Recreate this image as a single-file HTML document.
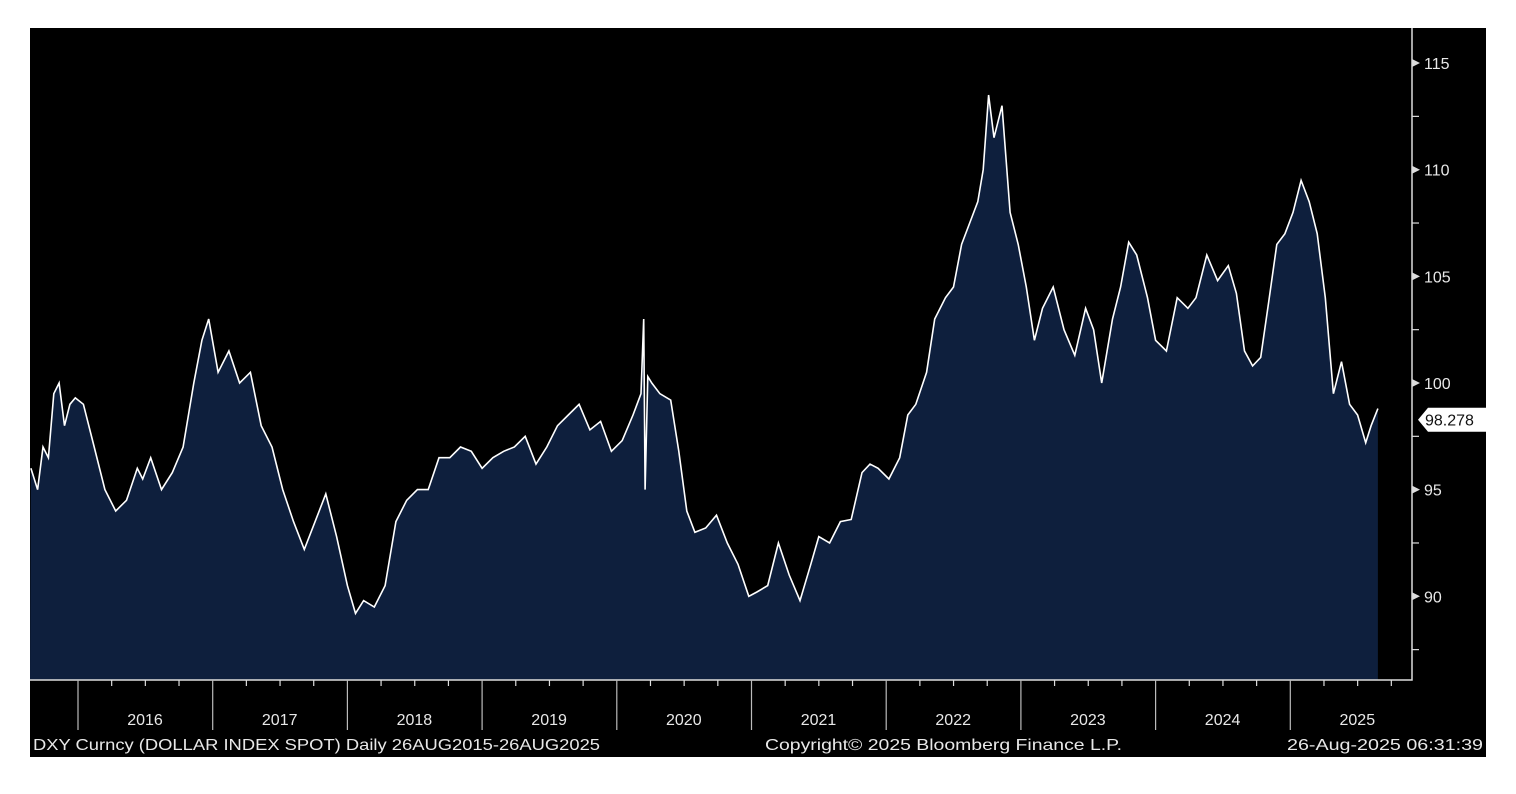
<!DOCTYPE html>
<html><head><meta charset="utf-8"><style>
html,body{margin:0;padding:0;background:#fff;width:1516px;height:794px;overflow:hidden}
svg text{font-family:"Liberation Sans",sans-serif}
</style></head><body>
<svg id="c" width="1516" height="794">
<rect x="30" y="28" width="1456" height="729" fill="#000"/>
<g id="plot"></g>
<g id="axes"></g>
<text x="33" y="750" fill="#e8e8e8" font-size="16" textLength="567" lengthAdjust="spacingAndGlyphs">DXY Curncy (DOLLAR INDEX SPOT)  Daily 26AUG2015-26AUG2025</text>
<text x="765" y="750" fill="#e8e8e8" font-size="16" textLength="357" lengthAdjust="spacingAndGlyphs">Copyright© 2025 Bloomberg Finance L.P.</text>
<text x="1287" y="750" fill="#e8e8e8" font-size="16" textLength="196" lengthAdjust="spacingAndGlyphs">26-Aug-2025 06:31:39</text>
</svg>
<script>
const dates=[2015.65,2015.70,2015.74,2015.78,2015.82,2015.86,2015.90,2015.94,2015.98,
2016.04,2016.12,2016.2,2016.28,2016.36,2016.44,2016.48,2016.54,2016.62,2016.7,2016.78,2016.86,2016.92,2016.97,
2017.04,2017.12,2017.2,2017.28,2017.36,2017.44,2017.52,2017.6,2017.68,2017.76,2017.84,2017.92,
2018.0,2018.06,2018.12,2018.2,2018.28,2018.36,2018.44,2018.52,2018.6,2018.68,2018.76,2018.84,2018.92,
2019.0,2019.08,2019.16,2019.24,2019.32,2019.4,2019.48,2019.56,2019.64,2019.72,2019.8,2019.88,2019.96,
2020.04,2020.12,2020.18,2020.2,2020.21,2020.23,2020.26,2020.32,2020.4,2020.46,2020.52,2020.58,2020.66,2020.74,2020.82,2020.9,2020.98,
2021.04,2021.12,2021.2,2021.28,2021.36,2021.44,2021.5,2021.58,2021.66,2021.74,2021.82,2021.88,2021.94,
2022.02,2022.1,2022.16,2022.22,2022.3,2022.36,2022.44,2022.5,2022.56,2022.62,2022.68,2022.72,2022.76,2022.8,2022.86,2022.92,2022.98,
2023.04,2023.1,2023.16,2023.24,2023.32,2023.4,2023.48,2023.54,2023.6,2023.68,2023.74,2023.8,2023.86,2023.94,
2024.0,2024.08,2024.16,2024.24,2024.3,2024.38,2024.46,2024.54,2024.6,2024.66,2024.72,2024.78,2024.84,2024.9,2024.96,
2025.02,2025.08,2025.14,2025.2,2025.26,2025.32,2025.38,2025.44,2025.5,2025.56,2025.6,2025.65];
const values=[96,95,97,96.5,99.5,100,98,99,99.3,
99,97,95,94,94.5,96,95.5,96.5,95,95.8,97,100,102,103,
100.5,101.5,100,100.5,98,97,95,93.5,92.2,93.5,94.8,92.8,
90.5,89.2,89.8,89.5,90.5,93.5,94.5,95,95,96.5,96.5,97,96.8,
96,96.5,96.8,97,97.5,96.2,97,98,98.5,99,97.8,98.2,96.8,
97.3,98.5,99.5,103,95,100.3,100,99.5,99.2,96.8,94,93,93.2,93.8,92.5,91.5,90,
90.2,90.5,92.5,91,89.8,91.5,92.8,92.5,93.5,93.6,95.8,96.2,96,
95.5,96.5,98.5,99,100.5,103,104,104.5,106.5,107.5,108.5,110,113.5,111.5,113,108,106.5,104.5,
102,103.5,104.5,102.5,101.3,103.5,102.5,100,103,104.5,106.6,106,104,102,
101.5,104,103.5,104,106,104.8,105.5,104.2,101.5,100.8,101.2,103.8,106.5,107,108,
109.5,108.5,107,104,99.5,101,99,98.5,97.2,98,98.8,98.278];
const yTicks=[90,95,100,105,110,115];
const years=[2016,2017,2018,2019,2020,2021,2022,2023,2024,2025];
const NS='http://www.w3.org/2000/svg';
const X=t=>78+(t-2016)*134.7;
const Y=v=>383-(v-100)*21.33;
const plot=document.getElementById('plot'),axes=document.getElementById('axes');
function mk(tag,attrs,parent){const e=document.createElementNS(NS,tag);for(const k in attrs)e.setAttribute(k,attrs[k]);parent.appendChild(e);return e;}
let d='';dates.forEach((t,i)=>{d+=(i?'L':'M')+X(t).toFixed(1)+','+Y(values[i]).toFixed(1);});
const area=mk('path',{fill:'#0e1f3d'},plot);
area.setAttribute('d','M30,680L'+d.slice(1)+'L'+X(dates[dates.length-1]).toFixed(1)+',680Z');


const line=mk('path',{d:d,fill:'none',stroke:'#fff','stroke-width':1.6,'stroke-linejoin':'miter'},plot);


const ax=mk('path',{d:'M30,680H1412V28',fill:'none',stroke:'#ddd','stroke-width':1.5},axes);


yTicks.forEach(v=>{const y=Y(v);
 const tk=mk('path',{d:`M1412,${y-4}L1420,${y}L1412,${y+4}Z`,fill:'#ddd'},axes);
 
 
 const mt=mk('line',{x1:1412,x2:1419,y1:Y(v-2.5),y2:Y(v-2.5),stroke:'#ddd','stroke-width':1.2},axes);
 
 
 const tx=mk('text',{x:1424,y:y+6,fill:'#e8e8e8','font-size':16},axes);tx.textContent=v;
 
 
});
years.forEach(yr=>{const x=X(yr);
 const l=mk('line',{x1:x,x2:x,y1:680,y2:730,stroke:'#bbb','stroke-width':1.2},axes);
 
 
 for(let q=1;q<4;q++){const qx=X(yr+q/4);const t=mk('line',{x1:qx,x2:qx,y1:680,y2:686,stroke:'#ddd','stroke-width':1.2},axes);
  
  }
 const tx=mk('text',{x:x+67,y:725,fill:'#e8e8e8','font-size':16,'text-anchor':'middle'},axes);tx.textContent=yr;
 
 
});
const lv=values[values.length-1],ly=Y(lv);
const tag=mk('path',{d:`M1418,${ly}L1428,${ly-12}H1486V${ly+12}H1428Z`,fill:'#fff'},axes);


const lt=mk('text',{x:1425,y:ly+6,fill:'#111','font-size':16},axes);lt.textContent=lv.toFixed(3);


</script>
</body></html>
